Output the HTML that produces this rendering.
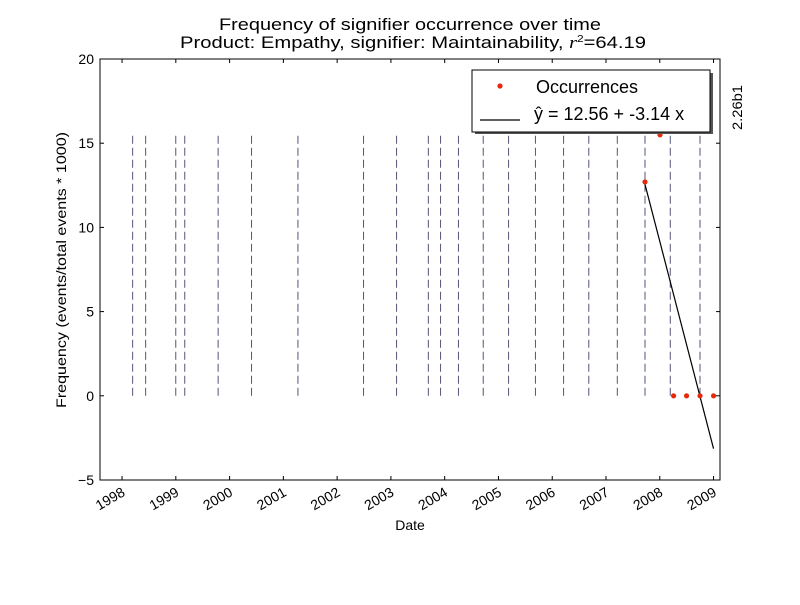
<!DOCTYPE html>
<html><head><meta charset="utf-8"><style>
body{margin:0;background:#fff}
svg text{font-family:"Liberation Sans",sans-serif}
</style></head><body>
<svg id="chart" width="800" height="600" xmlns="http://www.w3.org/2000/svg">
<rect width="800" height="600" fill="#fff"/>
<text x="410" y="30" font-size="17" text-anchor="middle" textLength="382" lengthAdjust="spacingAndGlyphs">Frequency of signifier occurrence over time</text>
<text x="413" y="48" font-size="17" text-anchor="middle" textLength="466" lengthAdjust="spacingAndGlyphs">Product: Empathy, signifier: Maintainability, <tspan font-family="Liberation Serif" font-style="italic">r</tspan><tspan font-size="10" dy="-6">2</tspan><tspan dy="6">=64.19</tspan></text>
<g id="plot"></g>
<text transform="translate(66,270) rotate(-90)" font-size="14" text-anchor="middle" textLength="276" lengthAdjust="spacingAndGlyphs">Frequency (events/total events * 1000)</text>
<text x="410" y="530" font-size="14" text-anchor="middle">Date</text>
<text transform="translate(742,130) rotate(-90)" font-size="14" textLength="45" lengthAdjust="spacingAndGlyphs">2.26b1</text>
</svg>
<script>
const yearTicks=[1998,1999,2000,2001,2002,2003,2004,2005,2006,2007,2008,2009];
const yTicks=[-5,0,5,10,15,20];
const eventDates=[1998.197,1998.439,1998.999,1999.166,1999.787,2000.408,2001.271,2002.491,2003.105,2003.696,2003.923,2004.256,2004.717,2005.188,2005.688,2006.211,2006.680,2007.210,2007.725,2008.195,2008.748];
const eventHeight=15.5;
const pointDates=[2007.725,2008.004,2008.257,2008.498,2008.748,2009.0];
const pointValues=[12.7,15.5,0,0,0,0];
const fitIntercept=12.56, fitSlope=-3.14;

const L=100,R=720,T=59,B=480;
const xMin=1997.59,xMax=2009.12,yMin=-5,yMax=20;
const X=d=>L+(d-xMin)/(xMax-xMin)*(R-L);
const Y=v=>B-(v-yMin)/(yMax-yMin)*(B-T);
const NS="http://www.w3.org/2000/svg";
const g=document.getElementById('plot');
function mk(t,a,p){const e=document.createElementNS(NS,t);for(const k in a)e.setAttribute(k,a[k]);(p||g).appendChild(e);return e;}

eventDates.forEach(d=>{
 const e=mk('line',{x1:X(d),x2:X(d),y1:Y(0),y2:Y(eventHeight),stroke:'#55557a','stroke-width':1,'stroke-dasharray':'8,4'});
 
 
});
const n=pointDates.length-1;
const fl=mk('line',{x1:X(pointDates[0]),y1:Y(fitIntercept),x2:X(pointDates[n]),y2:Y(fitIntercept+fitSlope*n),stroke:'#000','stroke-width':1.2});


pointDates.forEach((d,i)=>{
 const c=mk('circle',{cx:X(d),cy:Y(pointValues[i]),r:2.6,fill:'#e8280a'});
 
 
});
mk('rect',{x:R+0.5,y:0,width:80,height:600,fill:'#fff'});
const fr=mk('rect',{x:L,y:T,width:R-L,height:B-T,fill:'none',stroke:'#000','stroke-width':1});


yTicks.forEach(v=>{
 mk('line',{x1:L,x2:L+4,y1:Y(v),y2:Y(v),stroke:'#000'});
 mk('line',{x1:R,x2:R-4,y1:Y(v),y2:Y(v),stroke:'#000'});
 const t=mk('text',{x:L-6,y:Y(v)+5,'font-size':14,'text-anchor':'end','font-family':'Liberation Serif'});
 t.textContent=v<0?'\u2212'+(-v):v;
 
 
});
yearTicks.forEach(yv=>{
 const x=X(yv);
 if(x>R+1)return;
 mk('line',{x1:x,x2:x,y1:B,y2:B-4,stroke:'#000'});
 mk('line',{x1:x,x2:x,y1:T,y2:T+4,stroke:'#000'});
 const t=mk('text',{transform:`translate(${x+4},${B+15}) rotate(-30)`,'font-size':14,'text-anchor':'end'});
 t.textContent=yv;
 
 
});
const lg=mk('g',{});


mk('rect',{x:475,y:73,width:238,height:61,fill:'#555'},lg);
mk('rect',{x:472,y:70,width:238,height:62,fill:'#fff',stroke:'#000'},lg);
mk('circle',{cx:500,cy:86,r:2.6,fill:'#e8280a'},lg);
const t1=mk('text',{x:536,y:93,'font-size':18},lg);t1.textContent='Occurrences';
mk('line',{x1:480,x2:520,y1:120,y2:120,stroke:'#000','stroke-width':1.2},lg);
const t2=mk('text',{x:534,y:120,'font-size':18},lg);t2.textContent='ŷ = 12.56 + -3.14 x';
</script>
</body></html>
